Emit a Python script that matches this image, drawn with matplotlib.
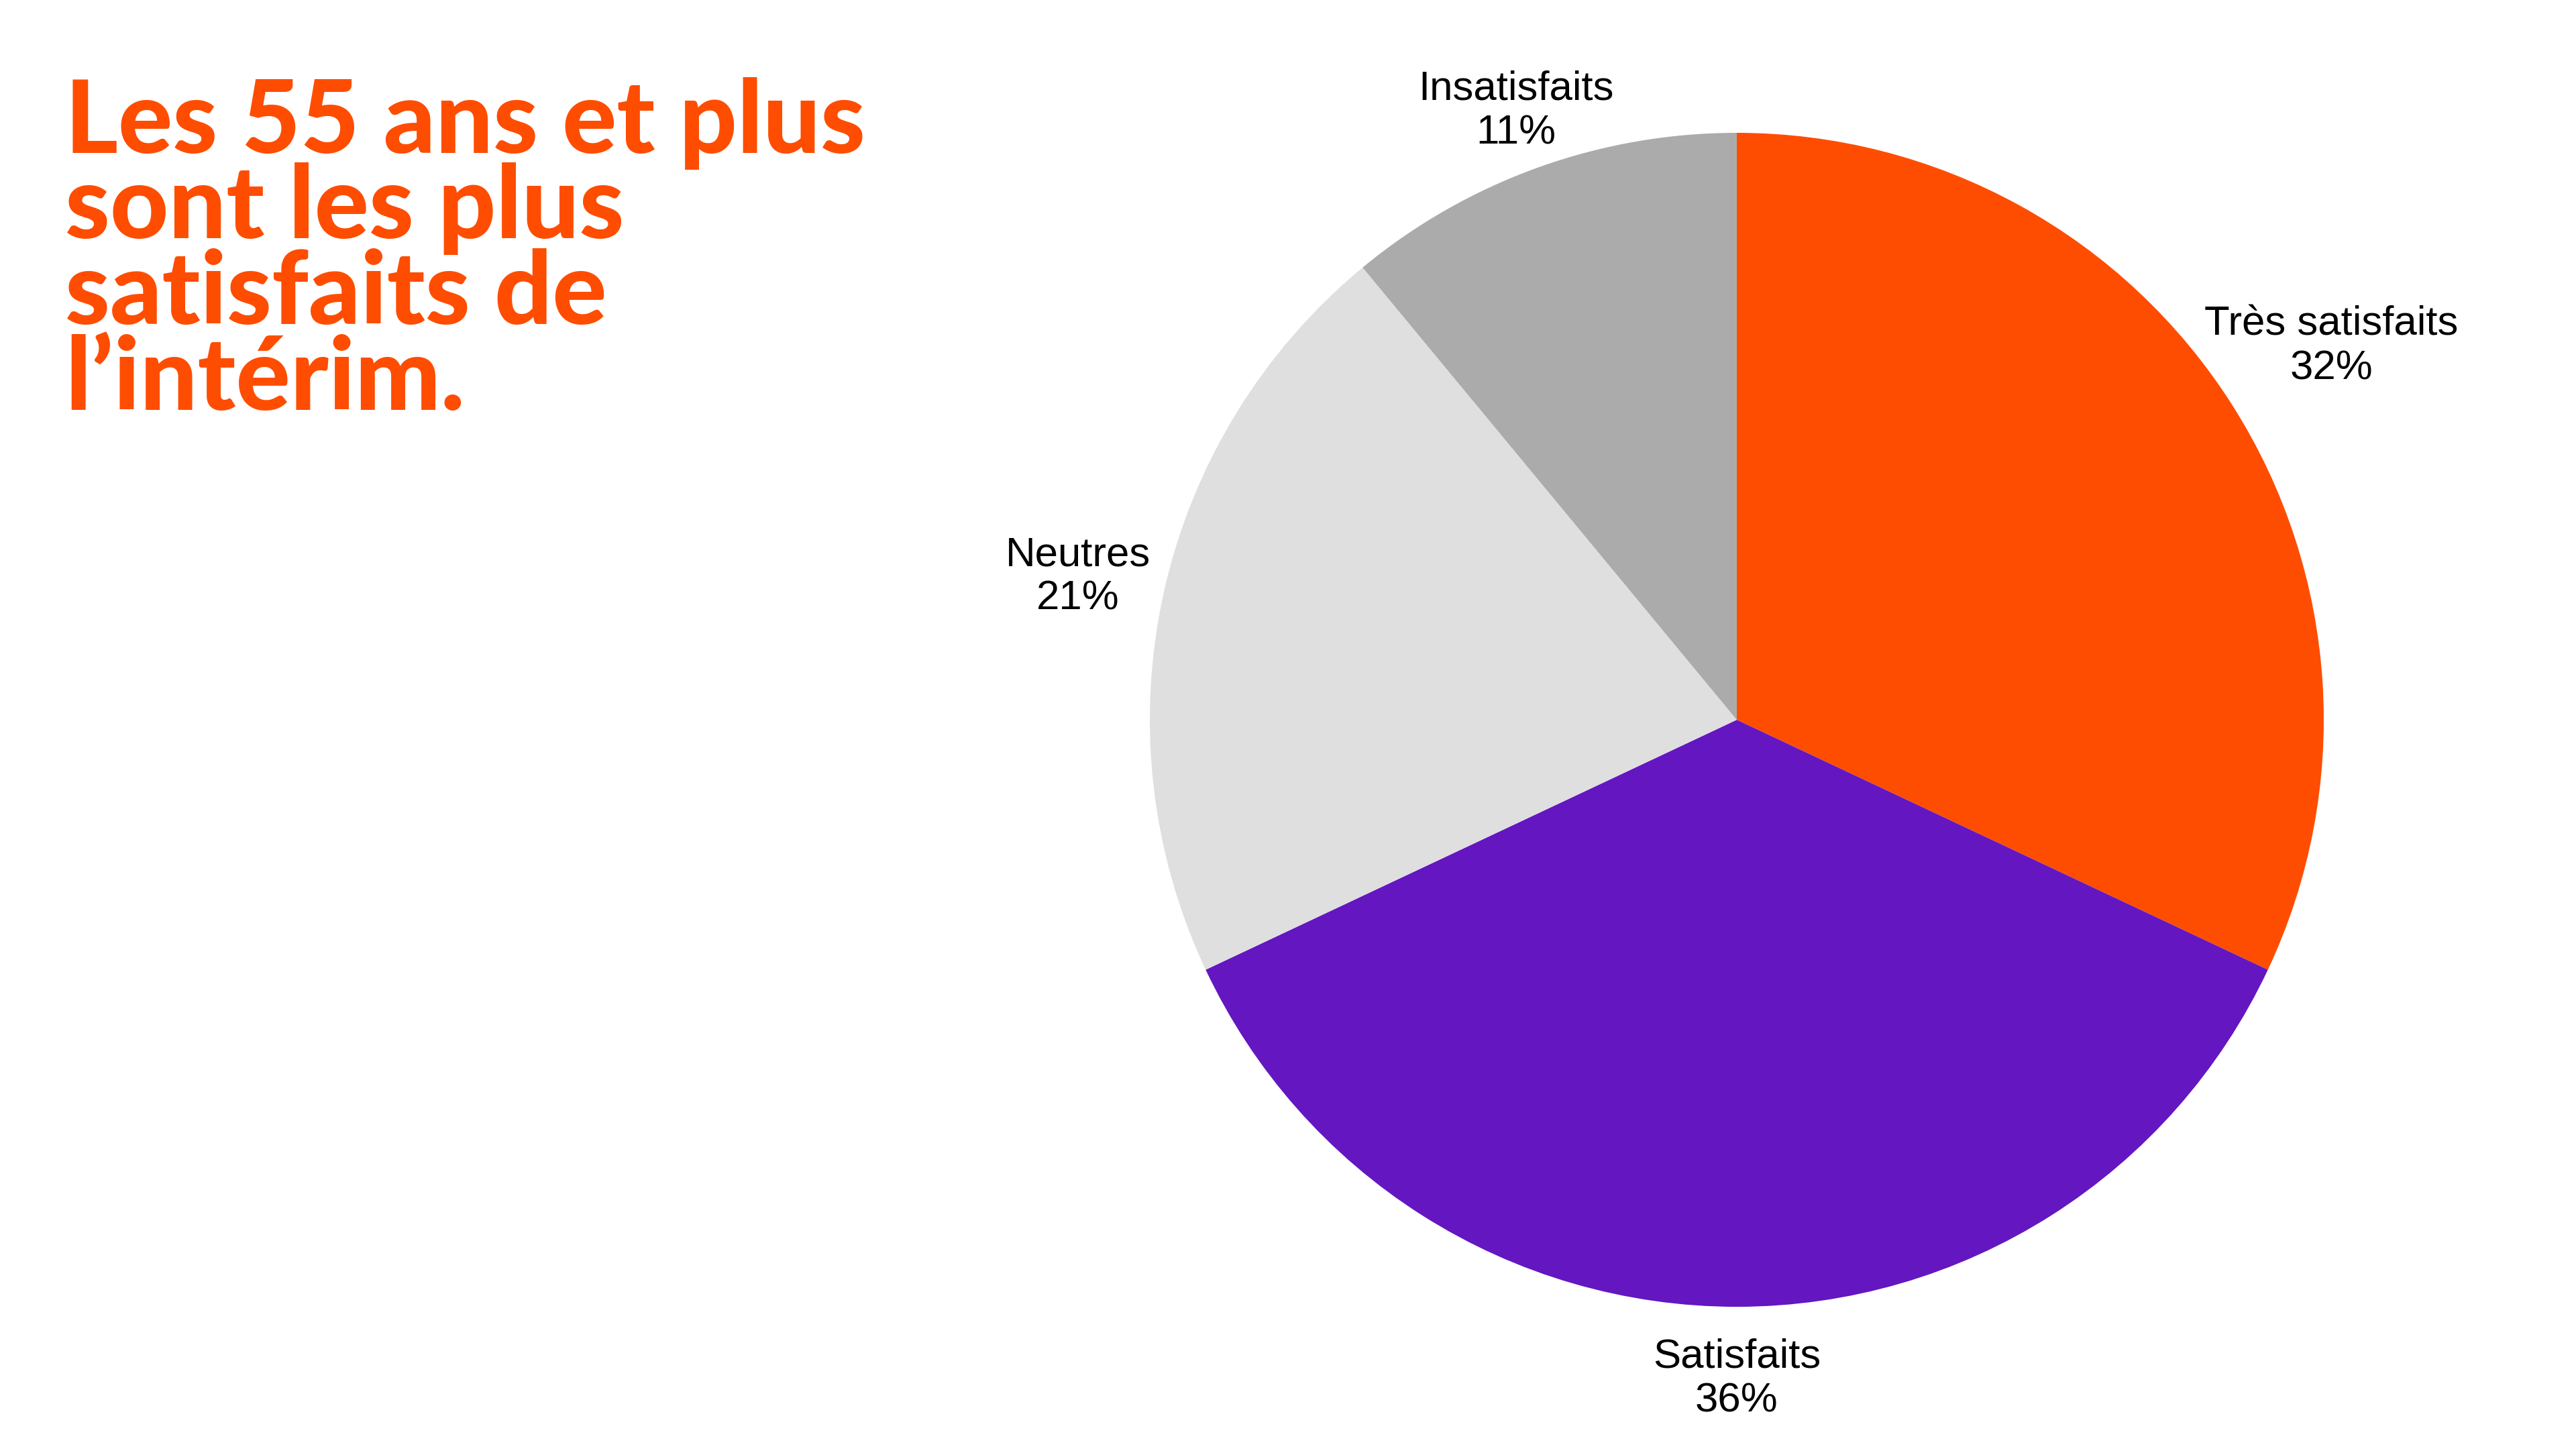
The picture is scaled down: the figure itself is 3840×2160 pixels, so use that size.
import matplotlib.pyplot as plt
import numpy as np

# Data
categories = ['Très satisfaits', 'Satisfaits', 'Neutres', 'Insatisfaits']
values = [32, 36, 21, 11]
colors = ['#FE4D01', '#6416C1', '#DFDFDF', '#ABABAB']
title_lines = ['Les 55 ans et plus', 'sont les plus', 'satisfaits de',
               'l\u2019intérim.']

# how far out each label sits (in pie radii)
label_dist = [1.20, 1.115, 1.15, 1.11]

plt.rcParams['font.family'] = ['Liberation Sans', 'DejaVu Sans']

fig = plt.figure(figsize=(38.4, 21.6), dpi=100)
fig.patch.set_facecolor('white')

# pie axes: centre (2589, 1073) px, radius 875 px
cx, cy, r = 2589 / 3840, 1 - 1073 / 2160, 875
w, h = 2 * r / 3840, 2 * r / 2160
ax = fig.add_axes([cx - w / 2, cy - h / 2, w, h])

wedges, _ = ax.pie(values, colors=colors, startangle=90,
                   counterclock=False, radius=1,
                   wedgeprops=dict(linewidth=0))
for wd, c, v, d in zip(wedges, categories, values, label_dist):
    ang = np.deg2rad((wd.theta1 + wd.theta2) / 2)
    ax.text(d * np.cos(ang), d * np.sin(ang) - 0.008, f'{c}\n{v}%', fontsize=44.5,
            color='black', ha='center', va='center', linespacing=1.2)
ax.set_xlim(-1, 1)
ax.set_ylim(-1, 1)
ax.axis('off')

# title, one line at a time (baselines 228 px from top, 127.5 px apart)
for i, line in enumerate(title_lines):
    fig.text(97 / 3840, 1 - (228 + 127.5 * i) / 2160, line, fontsize=109,
             fontweight='black', family=['Lato', 'DejaVu Sans'],
             color='#FE4D01', ha='left', va='baseline')

fig.savefig('out.png', dpi=100)
